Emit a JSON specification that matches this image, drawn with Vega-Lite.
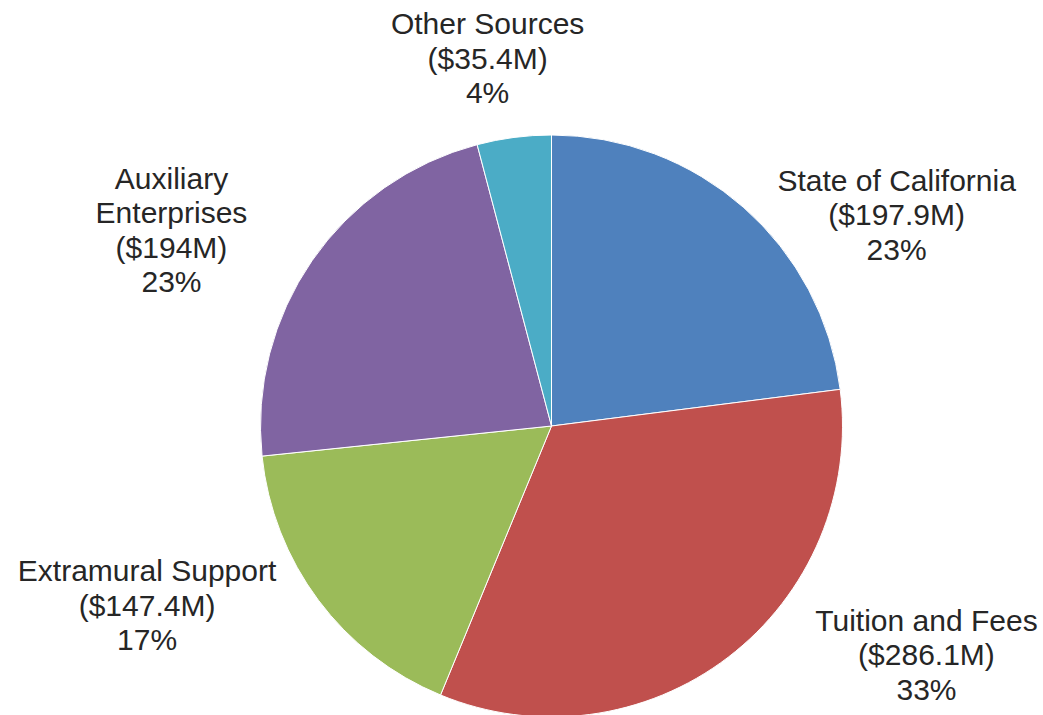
{
  "$schema": "https://vega.github.io/schema/vega-lite/v6.json",
  "autosize": {"type": "none"},
  "padding": 0,
  "width": 1103,
  "height": 852,
  "background": "white",
  "view": {"stroke": null},
  "data": {
    "values": [
      {"source": "State of California", "amount": 197.9, "percent": 23},
      {"source": "Tuition and Fees", "amount": 286.1, "percent": 33},
      {"source": "Extramural Support", "amount": 147.4, "percent": 17},
      {"source": "Auxiliary Enterprises", "amount": 194, "percent": 23},
      {"source": "Other Sources", "amount": 35.4, "percent": 4}
    ]
  },
  "transform": [
    {"window": [{"op": "row_number", "as": "k"}]},
    {"calculate": "(datum.source == 'Auxiliary Enterprises' ? 'Auxiliary\\nEnterprises' : datum.source) + '\\n($' + datum.amount + 'M)\\n' + datum.percent + '%'", "as": "label"}
  ],
  "encoding": {
    "theta": {"field": "amount", "type": "quantitative", "stack": true},
    "order": {"field": "k", "type": "quantitative"}
  },
  "layer": [
    {
      "mark": {"type": "arc", "outerRadius": 291, "stroke": "white", "strokeWidth": 1},
      "encoding": {
        "color": {
          "field": "source",
          "type": "nominal",
          "legend": null,
          "scale": {
            "domain": ["State of California", "Tuition and Fees", "Extramural Support", "Auxiliary Enterprises", "Other Sources"],
            "range": ["#4F81BD", "#C0504D", "#9BBB59", "#8064A2", "#4BACC6"]
          }
        }
      }
    },
    {
      "mark": {
        "type": "text",
        "radius": 395,
        "font": "Liberation Sans",
        "fontSize": 30,
        "lineHeight": 34.5,
        "align": "center",
        "baseline": "middle",
        "lineBreak": "\n",
        "color": "#262626",
        "dx": {"expr": "datum.source == 'State of California' ? 84 : datum.source == 'Tuition and Fees' ? 135 : datum.source == 'Extramural Support' ? -88 : datum.source == 'Auxiliary Enterprises' ? -55 : -13"},
        "dy": {"expr": "datum.source == 'State of California' ? 52 : datum.source == 'Tuition and Fees' ? -118 : datum.source == 'Extramural Support' ? -90 : datum.source == 'Auxiliary Enterprises' ? -22 : -9"}
      },
      "encoding": {
        "text": {"field": "label", "type": "nominal"}
      }
    }
  ]
}
